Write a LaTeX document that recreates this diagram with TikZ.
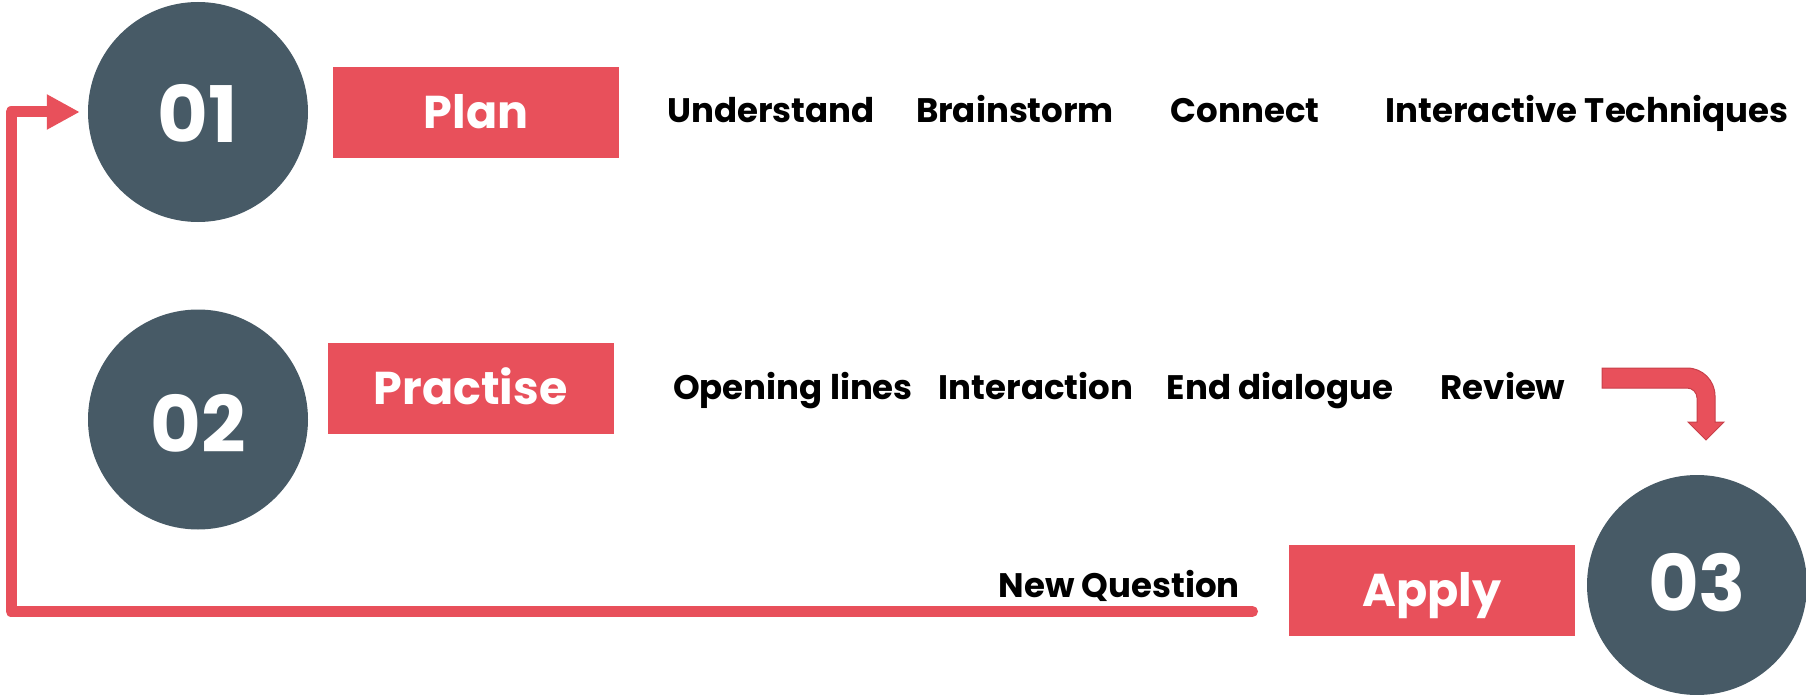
\documentclass[tikz,border=0pt]{standalone}
\usepackage{fontspec}
\setmainfont{Poppins}
\usetikzlibrary{arrows.meta}
\definecolor{brand}{HTML}{E8505B}
\definecolor{brandedge}{HTML}{C8404A}
\definecolor{slate}{HTML}{475A66}
\begin{document}
\begin{tikzpicture}[x=1pt,y=-1pt,
  numcircle/.style={circle, fill=slate, minimum size=220pt, inner sep=0pt, text=white,
    font=\bfseries\fontsize{78}{78}\selectfont, text height=54.5pt, text depth=0pt},
  tagbox/.style={rectangle, fill=brand, minimum width=286pt, minimum height=91pt, inner sep=0pt,
    text=white, font=\bfseries\fontsize{46}{46}\selectfont, text height=32pt, text depth=0pt},
  itemtext/.style={anchor=base, inner sep=0pt, text=black, font=\bfseries\fontsize{34}{34}\selectfont},
  loopline/.style={draw=brand, line width=11pt, line cap=round, line join=round,
    -{Triangle[length=33pt,width=33pt]}, shorten >=8pt},
  bentarrow/.style={fill=brand, draw=brandedge, line width=1pt, line join=miter}
]
\useasboundingbox (0,0) rectangle (1806,695);

% circles
\node[numcircle] (c1) at (198,112) {\raisebox{-3pt}{01}};
\node[numcircle] (c2) at (198,419.5) {\raisebox{-6pt}{02}};
\node[numcircle] (c3) at (1697,585) {\raisebox{1pt}{03}};

% tags
\node[tagbox] (plan) at (476,112.5) {Plan};
\node[tagbox] (practise) at (470.5,388) {Practise};
\node[tagbox] (apply) at (1432,590) {Apply};

% row 1
\node[itemtext] (t1) at (771,123) {Understand};
\node[itemtext] (t2) at (1015,123) {Brainstorm};
\node[itemtext] (t3) at (1245,123) {Connect};
\node[itemtext] (t4) at (1587,123) {Interactive Techniques};

% row 2
\node[itemtext] (u1) at (793,399) {Opening lines};
\node[itemtext] (u2) at (1036,399) {Interaction};
\node[itemtext] (u3) at (1280,399) {End dialogue};
\node[itemtext] (u4) at (1503,399) {Review};

% new question
\node[itemtext, anchor=base east] (nqtext) at (1240,597) {New Question};

% loop connector
\coordinate (nq) at (1252.5,611.5);
\draw[loopline] (nq) -- ++(-1241.5,0) |- (c1.west);

% bent arrow
\path[bentarrow] (1602,368) -- (1687,368) .. controls (1702.5,368) and (1715,380.5) .. (1715,396)
  -- (1715,422) -- (1724,422) -- (1706,440) -- (1688,422) -- (1697,422) -- (1697,398)
  .. controls (1697,392.5) and (1692.5,388) .. (1687,388) -- (1602,388) -- cycle;
\end{tikzpicture}
\end{document}
